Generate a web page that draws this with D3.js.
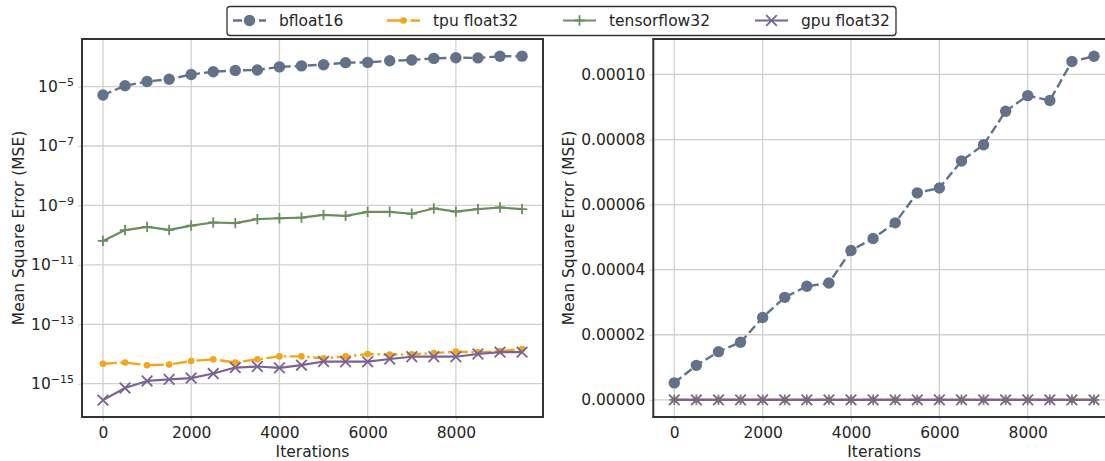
<!DOCTYPE html>
<html>
<head>
<meta charset="utf-8">
<script src="https://cdn.jsdelivr.net/npm/d3@7"></script>
<style>
html,body{margin:0;padding:0;background:#fff;}
svg{display:block;font-family:"DejaVu Sans",sans-serif;}
</style>
</head>
<body>
<svg id="chart" width="1105" height="461"></svg>
<script>
const iterations = [0,500,1000,1500,2000,2500,3000,3500,4000,4500,5000,5500,6000,6500,7000,7500,8000,8500,9000,9500];
const bfloat16 = [5.2e-6,1.06e-5,1.48e-5,1.77e-5,2.53e-5,3.15e-5,3.49e-5,3.59e-5,4.59e-5,4.96e-5,5.44e-5,6.36e-5,6.51e-5,7.34e-5,7.84e-5,8.87e-5,9.35e-5,9.2e-5,1.04e-4,1.056e-4];
const tpuFloat32 = [4.7e-15,5.2e-15,4.2e-15,4.4e-15,5.8e-15,6.6e-15,5.2e-15,6.6e-15,8.3e-15,8.3e-15,7.1e-15,8.3e-15,1.0e-14,9.5e-15,9.8e-15,1.07e-14,1.2e-14,1.13e-14,1.25e-14,1.48e-14];
const tensorflow32 = [6.4e-11,1.48e-10,1.9e-10,1.5e-10,2.1e-10,2.66e-10,2.54e-10,3.47e-10,3.7e-10,3.9e-10,4.8e-10,4.45e-10,6.1e-10,6.1e-10,5.25e-10,7.9e-10,6.2e-10,7.5e-10,8.5e-10,7.5e-10];
const gpuFloat32 = [2.8e-16,7.2e-16,1.24e-15,1.4e-15,1.55e-15,2.2e-15,3.5e-15,3.8e-15,3.4e-15,4.2e-15,5.6e-15,5.5e-15,5.5e-15,6.8e-15,8.1e-15,8.1e-15,8.1e-15,1.0e-14,1.16e-14,1.16e-14];
const seriesNames = ["bfloat16","tpu float32","tensorflow32","gpu float32"];
const xTicks = [0,2000,4000,6000,8000];
const logTickExps = [-5,-7,-9,-11,-13,-15];
const linTicks = [0,0.00002,0.00004,0.00006,0.00008,0.0001];

const styles = [
  {color:"#617289", width:2.4, dash:"9,4", marker:"circle", size:5.7},
  {color:"#f2a51d", width:2.4, dash:"14,3.5,2.5,3.5", marker:"dot", size:3.3},
  {color:"#6b8e5d", width:2.2, dash:null, marker:"plus", size:5.2},
  {color:"#7a6393", width:2.2, dash:null, marker:"x", size:5.3}
];
const seriesData = [bfloat16,tpuFloat32,tensorflow32,gpuFloat32];

const svg = d3.select("#chart");
const FS = 15.5;
const textColor = "#262626";
const plotTop = 39, plotBottom = 417;

function drawMarker(g, type, x, y, st){
  if(type==="circle"||type==="dot"){
    g.append("circle").attr("cx",x).attr("cy",y).attr("r",st.size).attr("fill",st.color);
  } else if(type==="plus"){
    const s=st.size;
    g.append("path").attr("d",`M${x-s},${y}H${x+s}M${x},${y-s}V${y+s}`).attr("stroke",st.color).attr("stroke-width",1.8).attr("fill","none");
  } else if(type==="x"){
    const s=st.size;
    g.append("path").attr("d",`M${x-s},${y-s}L${x+s},${y+s}M${x-s},${y+s}L${x+s},${y-s}`).attr("stroke",st.color).attr("stroke-width",1.8).attr("fill","none");
  }
}

function panel(left, right, yScale, yTicks, fmt, sup){
  const x = d3.scaleLinear().domain([-475,9975]).range([left,right]);
  const g = svg.append("g");
  g.selectAll(".vg").data(xTicks).enter().append("line")
    .attr("x1",d=>x(d)).attr("x2",d=>x(d)).attr("y1",plotTop).attr("y2",plotBottom)
    .attr("stroke","#d0d0d0").attr("stroke-width",1.3);
  g.selectAll(".hg").data(yTicks).enter().append("line")
    .attr("x1",left).attr("x2",right).attr("y1",d=>yScale(d)).attr("y2",d=>yScale(d))
    .attr("stroke","#d0d0d0").attr("stroke-width",1.3);
  const xAxis = d3.axisBottom(x).tickValues(xTicks).tickSize(4).tickPadding(6).tickFormat(d3.format("d"));
  const xa = g.append("g").attr("transform",`translate(0,${plotBottom})`).call(xAxis);
  xa.select(".domain").remove();
  xa.selectAll("line").attr("stroke","#cccccc");
  xa.selectAll("text").attr("font-size",FS).attr("fill",textColor).attr("font-family","DejaVu Sans");
  const yAxis = d3.axisLeft(yScale).tickValues(yTicks).tickSize(4).tickPadding(4).tickFormat(sup?()=>"":fmt);
  const ya = g.append("g").attr("transform",`translate(${left},0)`).call(yAxis);
  ya.select(".domain").remove();
  ya.selectAll("line").attr("stroke","#cccccc");
  ya.selectAll("text").attr("font-size",FS).attr("fill",textColor).attr("font-family","DejaVu Sans");
  if(sup){
    ya.selectAll(".tick").each(function(d){
      const t = d3.select(this).select("text");
      t.text(null);
      t.append("tspan").text("10");
      t.append("tspan").attr("font-size",11).attr("dy","-0.55em").text("\u2212"+String(-Math.round(Math.log10(d))));
    });
  }
  const clip = "clip"+Math.round(left);
  svg.append("clipPath").attr("id",clip).append("rect").attr("x",left).attr("y",plotTop).attr("width",right-left).attr("height",plotBottom-plotTop);
  const dg = g.append("g").attr("clip-path",`url(#${clip})`);
  seriesData.forEach((vals,i)=>{
    const st = styles[i];
    const line = d3.line().x((d,j)=>x(iterations[j])).y(d=>yScale(d));
    dg.append("path").datum(vals).attr("d",line).attr("fill","none")
      .attr("stroke",st.color).attr("stroke-width",st.width)
      .attr("stroke-dasharray",st.dash).attr("stroke-linejoin","round");
    vals.forEach((v,j)=>drawMarker(dg, st.marker, x(iterations[j]), yScale(v), st));
  });
  const sp = "#333333";
  g.append("line").attr("x1",left).attr("x2",left).attr("y1",plotTop).attr("y2",plotBottom).attr("stroke",sp).attr("stroke-width",2);
  g.append("line").attr("x1",left-1).attr("x2",right+1).attr("y1",plotTop).attr("y2",plotTop).attr("stroke",sp).attr("stroke-width",2);
  g.append("line").attr("x1",left-1).attr("x2",right+1).attr("y1",plotBottom).attr("y2",plotBottom).attr("stroke",sp).attr("stroke-width",2);
  g.append("line").attr("x1",right).attr("x2",right).attr("y1",plotTop).attr("y2",plotBottom).attr("stroke",sp).attr("stroke-width",2);
  g.append("text").attr("x",(left+right)/2).attr("y",457).attr("text-anchor","middle")
    .attr("font-size",FS).attr("fill",textColor).text("Iterations");
  return g;
}

const yLog = d3.scaleLog().domain([Math.pow(10,-16.12),Math.pow(10,-3.40)]).range([plotBottom,plotTop]);
panel(82,543,yLog,logTickExps.map(e=>Math.pow(10,e)),null,true);
svg.append("text").attr("transform","translate(23.5,228) rotate(-90)").attr("text-anchor","middle")
  .attr("font-size",FS).attr("fill",textColor).text("Mean Square Error (MSE)");

const yLin = d3.scaleLinear().domain([-5.28e-6,1.109e-4]).range([plotBottom,plotTop]);
panel(653.3,1115,yLin,linTicks,d3.format(".5f"),false);
svg.append("text").attr("transform","translate(573.5,228) rotate(-90)").attr("text-anchor","middle")
  .attr("font-size",FS).attr("fill",textColor).text("Mean Square Error (MSE)");

const lg = svg.append("g");
lg.append("rect").attr("x",227).attr("y",6.5).attr("width",669).attr("height",29).attr("rx",3)
  .attr("fill","#fff").attr("stroke","#333").attr("stroke-width",1.3);
const handleX = [233,387,563,755];
seriesNames.forEach((name,i)=>{
  const st = styles[i];
  const hx = handleX[i], cy = 20.5;
  lg.append("line").attr("x1",hx).attr("x2",hx+33).attr("y1",cy).attr("y2",cy)
    .attr("stroke",st.color).attr("stroke-width",st.width).attr("stroke-dasharray",st.dash);
  drawMarker(lg, st.marker, hx+16.5, cy, st);
  lg.append("text").attr("x",hx+46).attr("y",cy+5.5).attr("font-size",FS).attr("fill",textColor).text(name);
});
</script>
</body>
</html>
